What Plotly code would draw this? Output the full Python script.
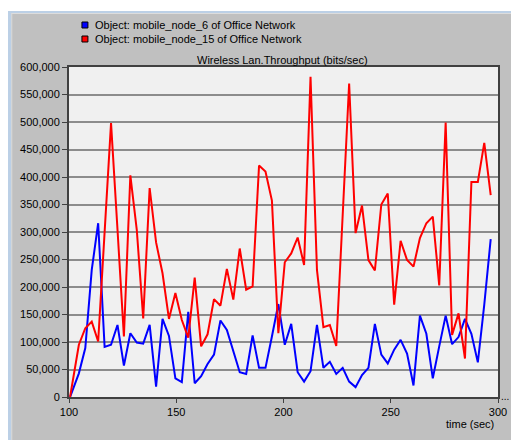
import plotly.graph_objects as go

# ---- data ----
time_sec = [100.5, 104.6, 107.6, 110.6, 113.6, 116.6, 119.6, 122.6, 125.6, 128.6,
            131.6, 134.6, 137.6, 140.6, 143.6, 146.6, 149.6, 152.6, 155.6, 158.6,
            161.6, 164.6, 167.6, 170.6, 173.6, 176.6, 179.6, 182.6, 185.6, 188.6,
            191.6, 194.6, 197.6, 200.6, 203.6, 206.6, 209.6, 212.6, 215.6, 218.6,
            221.6, 224.6, 227.6, 230.6, 233.6, 236.6, 239.6, 242.6, 245.6, 248.6,
            251.6, 254.6, 257.6, 260.6, 263.6, 266.6, 269.6, 272.6, 275.6, 278.6,
            281.6, 284.6, 287.6, 290.6, 293.6, 296.6]

node6 = [0, 43000, 89000, 231000, 316000, 91000, 95000, 131000, 57000, 116000,
         99000, 97000, 131000, 19000, 142000, 111000, 34000, 27000, 155000, 25000,
         38000, 60000, 77000, 139000, 122000, 83000, 45000, 42000, 112000, 53000,
         53000, 110000, 169000, 95000, 133000, 45000, 28000, 47000, 131000, 53000,
         64000, 42000, 53000, 28000, 18000, 40000, 53000, 133000, 77000, 61000,
         86000, 104000, 79000, 21000, 148000, 115000, 34000, 92000, 148000, 96000,
         109000, 142000, 115000, 63000, 168000, 287000]

node15 = [0, 95000, 125000, 137000, 101000, 300000, 498000, 305000, 110000, 403000,
          304000, 143000, 380000, 281000, 225000, 142000, 189000, 140000, 108000, 217000,
          92000, 114000, 178000, 166000, 233000, 177000, 270000, 195000, 201000, 421000,
          410000, 357000, 116000, 245000, 261000, 290000, 240000, 582000, 231000, 127000,
          131000, 93000, 330000, 570000, 298000, 348000, 249000, 230000, 350000, 370000,
          168000, 284000, 249000, 237000, 289000, 316000, 328000, 203000, 499000, 113000,
          152000, 70000, 391000, 391000, 462000, 367000]

series_names = ["Object: mobile_node_6 of Office Network",
                "Object: mobile_node_15 of Office Network"]
series_colors = ["#0000ff", "#ff0000"]

y_ticks = [0, 50000, 100000, 150000, 200000, 250000, 300000,
           350000, 400000, 450000, 500000, 550000, 600000]
y_labels = ["0", "50,000", "100,000", "150,000", "200,000", "250,000", "300,000",
            "350,000", "400,000", "450,000", "500,000", "550,000", "600,000"]
x_ticks = [100, 150, 200, 250, 300]

title_text = "Wireless Lan.Throughput (bits/sec)"
x_title = "time (sec)"

# ---- layout geometry ----
# The page body has an 8px margin, so the figure sits at (8, 8) in the window.
OFF = 8
W, H = 519 - OFF, 440 - OFF
# plot area in window pixels: x 69..500, y 67..397
L, T = 69 - OFF, 67 - OFF
R = W - (500 - OFF)
B = H - (397 - OFF)
PW, PH = W - L - R, H - T - B


def fx(p):
    """window x pixel -> paper coordinate"""
    return (p - OFF - L) / PW


def fy(p):
    """window y pixel -> paper coordinate"""
    return (H - B - (p - OFF)) / PH


FONT = "Liberation Sans, Arial, sans-serif"

fig = go.Figure()
for ys, name, col in [(node6, series_names[0], series_colors[0]),
                      (node15, series_names[1], series_colors[1])]:
    fig.add_trace(go.Scatter(x=time_sec, y=ys, mode="lines", name=name,
                             line=dict(color=col, width=2), showlegend=False))

shapes = []
# window frame: white band + light blue edge at top and left
shapes.append(dict(type="rect", xref="paper", yref="paper", x0=fx(OFF - 2), x1=fx(W + OFF + 2),
                   y0=fy(11), y1=fy(OFF - 2), fillcolor="#ffffff", line=dict(width=0)))
shapes.append(dict(type="rect", xref="paper", yref="paper", x0=fx(8), x1=fx(W + OFF + 2),
                   y0=fy(13), y1=fy(11), fillcolor="#bcd0e6", line=dict(width=0)))
shapes.append(dict(type="rect", xref="paper", yref="paper", x0=fx(11), x1=fx(W + OFF + 2),
                   y0=fy(14), y1=fy(13), fillcolor="#dcdcdc", line=dict(width=0)))
shapes.append(dict(type="rect", xref="paper", yref="paper", x0=fx(OFF - 2), x1=fx(11),
                   y0=fy(H + OFF + 2), y1=fy(11), fillcolor="#bcd0e6", line=dict(width=0)))
shapes.append(dict(type="rect", xref="paper", yref="paper", x0=fx(11), x1=fx(12),
                   y0=fy(H + OFF + 2), y1=fy(13), fillcolor="#dcdcdc", line=dict(width=0)))

annotations = []
# legend squares + labels
for i, (name, col) in enumerate(zip(series_names, series_colors)):
    cy = 25 + 14 * i
    shapes.append(dict(type="rect", xref="paper", yref="paper",
                       x0=fx(82), x1=fx(88), y0=fy(cy + 3), y1=fy(cy - 3),
                       fillcolor=col, line=dict(color="#000000", width=1)))
    annotations.append(dict(text=name, xref="paper", yref="paper", x=fx(93), y=fy(cy),
                            xanchor="left", yanchor="middle", showarrow=False,
                            font=dict(family=FONT, size=11, color="#000000")))

annotations.append(dict(text=title_text, xref="paper", yref="paper", x=fx(283), y=fy(60),
                        xanchor="center", yanchor="middle", showarrow=False,
                        font=dict(family=FONT, size=11, color="#000000")))
annotations.append(dict(text=x_title, xref="paper", yref="paper", x=fx(498), y=fy(424),
                        xanchor="right", yanchor="middle", showarrow=False,
                        font=dict(family=FONT, size=11, color="#000000")))
annotations.append(dict(text="...", xref="paper", yref="paper", x=fx(507), y=fy(404),
                        xanchor="center", yanchor="bottom", showarrow=False,
                        font=dict(family=FONT, size=10, color="#000000")))

fig.update_layout(
    width=W, height=H,
    margin=dict(l=L, r=R, t=T, b=B, pad=0),
    paper_bgcolor="#c0c0c0",
    plot_bgcolor="#f0f0f0",
    font=dict(family=FONT, size=11, color="#000000"),
    shapes=shapes,
    annotations=annotations,
    showlegend=False,
    xaxis=dict(range=[100, 300], tickvals=x_ticks, ticktext=[str(v) for v in x_ticks],
               showgrid=False, zeroline=False, showline=True, mirror=True,
               linecolor="#404040", linewidth=2, ticks="outside", ticklen=4,
               tickcolor="#404040", tickfont=dict(family=FONT, size=11, color="#000000")),
    yaxis=dict(range=[0, 600000], tickvals=y_ticks, ticktext=y_labels,
               showgrid=True, gridcolor="#8c8c8c", gridwidth=1.5, zeroline=False,
               showline=True, mirror=True, linecolor="#404040", linewidth=2,
               ticks="outside", ticklen=5, tickcolor="#404040",
               tickfont=dict(family=FONT, size=11, color="#000000")),
)

fig.write_html("out.html")
